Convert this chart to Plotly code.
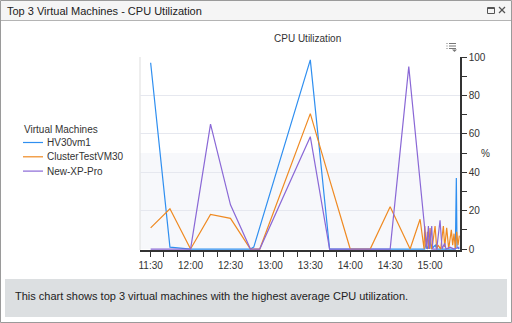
import plotly.graph_objects as go

DAY = "2024-01-01 "

series_names = ["HV30vm1", "ClusterTestVM30", "New-XP-Pro"]
series_colors = ["#2f8ff0", "#ef8a22", "#8a68d6"]

hv_times = ["11:30", "11:44:30", "12:00", "12:15", "12:30", "12:45", "12:47:30", "13:30",
            "13:44:30", "14:00", "14:15", "14:30", "14:45", "14:56", "14:57", "14:58",
            "15:00", "15:01", "15:04", "15:05", "15:19", "15:19:45", "15:20:15", "15:22"]
hv_vals = [97, 1, 0, 0, 0, 0, 1, 98.5,
           0, 0, 0, 0, 0, 0, 3, 0,
           4, 0, 2, 0, 0, 37, 1, 0]

ct_times = ["11:30", "11:44:30", "12:00", "12:15", "12:30", "12:45", "12:52", "13:30",
            "13:45", "14:00", "14:15", "14:30", "14:45", "14:52:30", "14:55:30", "14:56",
            "14:57", "14:58", "14:59", "15:00", "15:01", "15:02", "15:03:45", "15:05",
            "15:06", "15:07", "15:08", "15:10", "15:11", "15:12:30", "15:14", "15:16",
            "15:17", "15:18", "15:19", "15:20", "15:21", "15:22"]
ct_vals = [11, 21, 0, 18, 16, 0, 0, 70.5,
           35, 0, 0, 22, 0, 15.5, 0, 12,
           1, 9, 0, 11, 0, 3, 12, 0,
           2, 1, 0, 12, 1, 11, 0, 10,
           2, 8, 0, 9, 2, 7]

xp_times = ["11:30", "11:45", "12:00", "12:15", "12:30", "12:45", "12:52", "13:30",
            "13:44:30", "14:00", "14:15", "14:30", "14:44", "14:57:30", "14:58:45", "14:59:30",
            "15:01:15", "15:02", "15:05", "15:07:30", "15:09", "15:11", "15:12", "15:15",
            "15:18", "15:22"]
xp_vals = [0, 0, 0, 65, 23, 0, 0, 58.5,
           0, 0, 0, 0, 95, 0, 12, 0,
           12, 0, 0, 15, 0, 3, 0, 1,
           0, 1]

y_tick_vals = [0, 20, 40, 60, 80, 100]
x_range = ["11:22", "15:22:30"]

# pixel layout helpers (plot area: x 140..460, y 57..250)
L, R, T, B = 140, 460, 57, 250
W, H = 512, 323


def px(x):
    return (x - L) / (R - L)


def py(y):
    return (B - y) / (B - T)


fig = go.Figure()
all_series = [(hv_times, hv_vals), (ct_times, ct_vals), (xp_times, xp_vals)]
for (t, v), name, col in zip(all_series, series_names, series_colors):
    fig.add_trace(go.Scatter(x=[DAY + s for s in t], y=v, mode="lines", name=name,
                             line=dict(color=col, width=1.2), showlegend=False))

font_main = "Liberation Sans, Arial, sans-serif"
txt = "#333333"

shapes = []
ann = []

# outer frame
shapes.append(dict(type="rect", xref="paper", yref="paper", x0=px(0.5), x1=px(511.5),
                   y0=py(322.5), y1=py(0.5), line=dict(color="#9a9a9a", width=1),
                   fillcolor="rgba(0,0,0,0)", layer="below"))
# title bar
shapes.append(dict(type="rect", xref="paper", yref="paper", x0=px(1), x1=px(511),
                   y0=py(20), y1=py(1), line=dict(width=0), fillcolor="#f5f5f5", layer="below"))
shapes.append(dict(type="line", xref="paper", yref="paper", x0=px(1), x1=px(511),
                   y0=py(20.5), y1=py(20.5), line=dict(color="#b4b4b4", width=1)))
# title bar icons
shapes.append(dict(type="rect", xref="paper", yref="paper", x0=px(487.5), x1=px(494.5),
                   y0=py(13.5), y1=py(7.5), line=dict(color="#555", width=1)))
shapes.append(dict(type="line", xref="paper", yref="paper", x0=px(487.5), x1=px(494.5),
                   y0=py(8.5), y1=py(8.5), line=dict(color="#555", width=1)))
shapes.append(dict(type="line", xref="paper", yref="paper", x0=px(499), x1=px(505),
                   y0=py(7), y1=py(13), line=dict(color="#555", width=1.2)))
shapes.append(dict(type="line", xref="paper", yref="paper", x0=px(499), x1=px(505),
                   y0=py(13), y1=py(7), line=dict(color="#555", width=1.2)))
# footer box
shapes.append(dict(type="rect", xref="paper", yref="paper", x0=px(5), x1=px(507),
                   y0=py(317), y1=py(279), line=dict(width=0), fillcolor="#dcdfe1", layer="below"))
# plot band 0..50
shapes.append(dict(type="rect", xref="paper", yref="y", x0=0, x1=1, y0=0, y1=50,
                   line=dict(width=0), fillcolor="#f7f8fb", layer="below"))
# left plot border
shapes.append(dict(type="line", xref="paper", yref="paper", x0=0, x1=0, y0=0, y1=1,
                   line=dict(color="#dddddd", width=1), layer="below"))
# menu icon
for yy in (43.5, 46, 48.5):
    shapes.append(dict(type="line", xref="paper", yref="paper", x0=px(446.5), x1=px(447.5),
                       y0=py(yy), y1=py(yy), line=dict(color="#777", width=1)))
    shapes.append(dict(type="line", xref="paper", yref="paper", x0=px(449), x1=px(456),
                       y0=py(yy), y1=py(yy), line=dict(color="#777", width=1)))
shapes.append(dict(type="path", xref="paper", yref="paper",
                   path=f"M {px(452)},{py(49.5)} L {px(457)},{py(49.5)} L {px(454.5)},{py(52)} Z",
                   fillcolor="#777", line=dict(width=0)))

# legend (manual)
ann.append(dict(text="Virtual Machines", x=px(22), y=py(129), xref="paper", yref="paper",
                xanchor="left", yanchor="middle", showarrow=False,
                font=dict(size=10, color=txt, family=font_main)))
for i, (name, col) in enumerate(zip(series_names, series_colors)):
    yy = 142.5 + i * 14.3
    shapes.append(dict(type="line", xref="paper", yref="paper", x0=px(23), x1=px(43),
                       y0=py(yy), y1=py(yy), line=dict(color=col, width=1.2)))
    ann.append(dict(text=name, x=px(45), y=py(yy), xref="paper", yref="paper",
                    xanchor="left", yanchor="middle", showarrow=False,
                    font=dict(size=10, color=txt, family=font_main)))

# texts
ann.append(dict(text="Top 3 Virtual Machines - CPU Utilization", x=px(5), y=py(11),
                xref="paper", yref="paper", xanchor="left", yanchor="middle", showarrow=False,
                font=dict(size=11, color="#222", family=font_main)))
ann.append(dict(text="CPU Utilization", x=px(307.5), y=py(38), xref="paper", yref="paper",
                xanchor="center", yanchor="middle", showarrow=False,
                font=dict(size=10, color=txt, family=font_main)))
ann.append(dict(text="%", x=px(485), y=py(153), xref="paper", yref="paper",
                xanchor="center", yanchor="middle", showarrow=False,
                font=dict(size=10, color=txt, family=font_main)))
ann.append(dict(text="This chart shows top 3 virtual machines with the highest average CPU utilization.",
                x=px(13), y=py(295.5), xref="paper", yref="paper", xanchor="left", yanchor="middle",
                showarrow=False, font=dict(size=11, color="#222", family=font_main)))

fig.update_layout(
    width=W, height=H,
    margin=dict(l=L, r=W - R, t=T, b=H - B, pad=0),
    paper_bgcolor="white", plot_bgcolor="rgba(0,0,0,0)",
    font=dict(family=font_main, size=10, color=txt),
    shapes=shapes, annotations=ann,
    xaxis=dict(type="date", range=[DAY + x_range[0], DAY + x_range[1]],
               tick0=DAY + "11:30", dtick=1800000, tickformat="%H:%M",
               showline=True, linecolor="#333", linewidth=1.5,
               ticks="outside", ticklen=5, tickcolor="#333", tickwidth=1,
               minor=dict(dtick=600000, ticks="outside", ticklen=5, tickcolor="#333"),
               showgrid=False, zeroline=False, layer="below traces",
               tickfont=dict(size=10, color=txt, family=font_main)),
    yaxis=dict(side="right", range=[-0.5, 100], tickvals=y_tick_vals,
               showline=True, linecolor="#333", linewidth=1.5,
               ticks="outside", ticklen=5, tickcolor="#333", tickwidth=1,
               minor=dict(dtick=10, ticks="outside", ticklen=5, tickcolor="#333", showgrid=False),
               showgrid=True, gridcolor="#e6e8ef", gridwidth=1, zeroline=False,
               layer="below traces",
               tickfont=dict(size=10, color=txt, family=font_main)),
)

fig.write_html("out.html")
